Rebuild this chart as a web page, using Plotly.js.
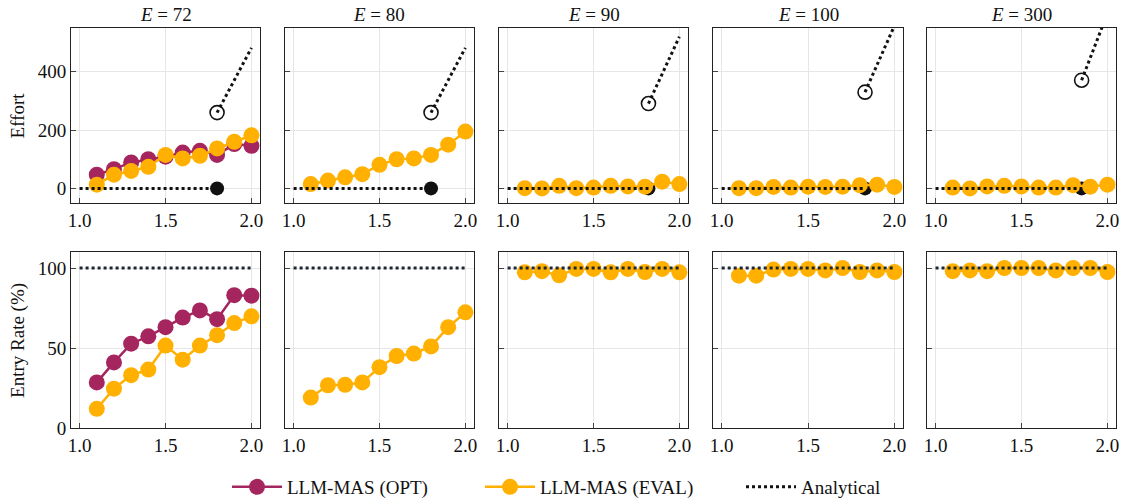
<!DOCTYPE html>
<html>
<head>
<meta charset="utf-8">
<script src="https://cdn.plot.ly/plotly-3.0.1.min.js"></script>
<style>html,body{margin:0;padding:0;background:#fff;}#chart{width:1123px;height:501px;}</style>
</head>
<body>
<div id="chart"></div>
<script>
// ---- data ----
const alphas = [1.1, 1.2, 1.3, 1.4, 1.5, 1.6, 1.7, 1.8, 1.9, 2.0];
const panelTitles = ["72", "80", "90", "100", "300"];

// Effort (top row)
const effortOpt72 = [47, 66, 89, 100, 109, 123, 129, 115, 152, 146];
const effortEval72 = [13, 47, 60, 74, 115, 103, 112, 137, 160, 182];
const effortEval80 = [15, 27, 38, 49, 81, 100, 103, 115, 150, 195];
const effortEval90 = [1, 0, 9, 1, 3, 9, 7, 6, 23, 15];
const effortEval100 = [1, 1, 5, 3, 6, 5, 6, 11, 13, 5];
const effortEval300 = [3, 0, 7, 9, 7, 3, 3, 11, 6, 13];

// Entry rate (bottom row, %)
const entryOpt72 = [28.5, 41, 52.7, 57.3, 63, 69, 73.5, 68, 83, 82.7];
const entryEval72 = [12, 24.6, 33, 36.5, 51.5, 42.7, 51.5, 58, 65.6, 69.8];
const entryEval80 = [19, 26.7, 27, 28.5, 38, 45, 46.5, 51, 63, 72.3];
const entryEval90 = [97.3, 98, 95.4, 99.4, 99.4, 97.3, 99.4, 97.5, 99.4, 97.3];
const entryEval100 = [95.2, 95.2, 99, 99.4, 99.4, 98.5, 100, 97.5, 98.5, 97.5];
const entryEval300 = [98, 98.5, 98, 100, 100, 100, 98.5, 100, 100, 97.5];

// Analytical: effort is 0 below the threshold, jumps at the threshold and rises after it
const anaThreshold = [1.8, 1.8, 1.82, 1.83, 1.85];
const anaJumpEffort = [260, 260, 291, 330, 371];
const anaEndX = [2.0, 2.0, 2.0, 2.0, 2.0];
const anaEndEffort = [482, 482, 520, 558, 600];
const anaStartX = 1.0;
const anaEntry = 100;

const effortOpt = [effortOpt72, null, null, null, null];
const effortEval = [effortEval72, effortEval80, effortEval90, effortEval100, effortEval300];
const entryOpt = [entryOpt72, null, null, null, null];
const entryEval = [entryEval72, entryEval80, entryEval90, entryEval100, entryEval300];

// ---- style ----
const C_OPT = "#A5265F";
const C_EVAL = "#FFB000";
const C_ANA = "#111111";
const FONT = "Liberation Serif";
const FS = 19;

const colDom = [[0, 0.1809], [0.2048, 0.3856], [0.4096, 0.5904], [0.6144, 0.7962], [0.8191, 1]];
const topDom = [0.5625, 1];
const botDom = [0, 0.44];

const traces = [];
const layout = {
  width: 1123, height: 501,
  margin: {l: 71, r: 7, t: 28, b: 73, autoexpand: false},
  paper_bgcolor: "#fff", plot_bgcolor: "#fff",
  font: {family: FONT, size: FS, color: "#111"},
  showlegend: true,
  legend: {orientation: "h", x: 0.1493, xanchor: "left", y: -0.1475, yanchor: "middle", itemwidth: 50,
           font: {family: FONT, size: FS}, traceorder: "normal", bgcolor: "rgba(0,0,0,0)"},
  annotations: []
};

function axisCommon(dom, anchor) {
  return {
    domain: dom, anchor: anchor,
    showline: true, mirror: true, linecolor: "#222", linewidth: 1,
    ticks: "inside", ticklen: 5, tickcolor: "#444", tickwidth: 1,
    showgrid: true, gridcolor: "#e6e6e6", gridwidth: 1,
    zeroline: false,
    tickfont: {family: FONT, size: FS, color: "#111"}
  };
}

for (let c = 0; c < 5; c++) {
  const topIdx = c + 1;
  const botIdx = c + 6;
  const xt = "x" + (topIdx === 1 ? "" : topIdx), yt = "y" + (topIdx === 1 ? "" : topIdx);
  const xb = "x" + botIdx, yb = "y" + botIdx;
  const xtk = "xaxis" + (topIdx === 1 ? "" : topIdx), ytk = "yaxis" + (topIdx === 1 ? "" : topIdx);
  const xbk = "xaxis" + botIdx, ybk = "yaxis" + botIdx;

  layout[xtk] = Object.assign(axisCommon(colDom[c], yt), {range: [0.95, 2.05], tickvals: [1.0, 1.5, 2.0], ticktext: ["1.0", "1.5", "2.0"]});
  layout[ytk] = Object.assign(axisCommon(topDom, xt), {range: [-50, 550], tickvals: [0, 200, 400], showticklabels: c === 0});
  layout[xbk] = Object.assign(axisCommon(colDom[c], yb), {range: [0.95, 2.05], tickvals: [1.0, 1.5, 2.0], ticktext: ["1.0", "1.5", "2.0"]});
  layout[ybk] = Object.assign(axisCommon(botDom, xb), {range: [0, 110], tickvals: [0, 50, 100], showticklabels: c === 0});

  // ---- top row: Effort ----
  traces.push({x: [anaThreshold[c]], y: [0], xaxis: xt, yaxis: yt, mode: "markers", showlegend: false,
    marker: {color: C_ANA, size: 14}, hoverinfo: "skip"});
  if (effortOpt[c]) traces.push({x: alphas, y: effortOpt[c], xaxis: xt, yaxis: yt, mode: "lines+markers",
    name: "LLM-MAS (OPT)", showlegend: c === 0, legendgroup: "opt", legendwidth: 188,
    line: {color: C_OPT, width: 2.5}, marker: {color: C_OPT, size: 16}});
  traces.push({x: alphas, y: effortEval[c], xaxis: xt, yaxis: yt, mode: "lines+markers",
    name: "LLM-MAS (EVAL)", showlegend: c === 0, legendgroup: "eval", legendwidth: 196,
    line: {color: C_EVAL, width: 2.5}, marker: {color: C_EVAL, size: 16}});
  traces.push({x: [anaStartX, anaThreshold[c]], y: [0, 0], xaxis: xt, yaxis: yt, mode: "lines",
    name: "Analytical", showlegend: c === 0, legendgroup: "ana", legendwidth: 95,
    line: {color: C_ANA, width: 3, dash: "3px,3px"}});
  traces.push({x: [anaThreshold[c], anaEndX[c]], y: [anaJumpEffort[c], anaEndEffort[c]], xaxis: xt, yaxis: yt,
    mode: "lines", showlegend: false, legendgroup: "ana",
    line: {color: C_ANA, width: 3, dash: "3px,3px"}});
  traces.push({x: [anaThreshold[c]], y: [anaJumpEffort[c]], xaxis: xt, yaxis: yt, mode: "markers",
    showlegend: false, marker: {symbol: "circle-open", color: C_ANA, size: 14, line: {width: 1.6, color: C_ANA}}});

  // ---- bottom row: Entry rate ----
  if (entryOpt[c]) traces.push({x: alphas, y: entryOpt[c], xaxis: xb, yaxis: yb, mode: "lines+markers",
    showlegend: false, legendgroup: "opt", line: {color: C_OPT, width: 2.5}, marker: {color: C_OPT, size: 16}});
  traces.push({x: alphas, y: entryEval[c], xaxis: xb, yaxis: yb, mode: "lines+markers",
    showlegend: false, legendgroup: "eval", line: {color: C_EVAL, width: 2.5}, marker: {color: C_EVAL, size: 16}});
  traces.push({x: [anaStartX, 2.0], y: [anaEntry, anaEntry], xaxis: xb, yaxis: yb, mode: "lines",
    showlegend: false, legendgroup: "ana", line: {color: "#1c2733", width: 3, dash: "3px,3px"}});

  layout.annotations.push({text: "<i>E</i> = " + panelTitles[c], xref: "paper", yref: "paper",
    x: (colDom[c][0] + colDom[c][1]) / 2, y: 1.0, yshift: 14, xanchor: "center", yanchor: "middle",
    showarrow: false, font: {family: FONT, size: FS, color: "#111"}});
}

layout.annotations.push({text: "Effort", xref: "paper", yref: "paper", x: -0.0508, y: (topDom[0] + topDom[1]) / 2,
  xanchor: "center", yanchor: "middle", textangle: -90, showarrow: false, font: {family: FONT, size: FS, color: "#111"}});
layout.annotations.push({text: "Entry Rate (%)", xref: "paper", yref: "paper", x: -0.0508, y: (botDom[0] + botDom[1]) / 2,
  xanchor: "center", yanchor: "middle", textangle: -90, showarrow: false, font: {family: FONT, size: FS, color: "#111"}});

Plotly.newPlot("chart", traces, layout, {staticPlot: true, displayModeBar: false});
</script>
</body>
</html>
